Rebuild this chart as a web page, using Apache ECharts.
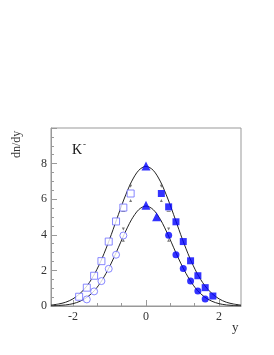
<!DOCTYPE html>
<html>
<head>
<meta charset="utf-8">
<script src="https://cdn.jsdelivr.net/npm/echarts@6/dist/echarts.min.js"></script>
<style>html,body{margin:0;padding:0;background:#fff;}#c{width:274px;height:355px;}</style>
</head>
<body>
<div id="c"></div>
<script>
// ---- data ----
const xTickLabels = [-2, 0, 2];
const xMinorTicks = [-1.333, -0.667, 0.667, 1.333];
const yTickLabels = [0, 2, 4, 6, 8];

const curveX     = [-2.6,-2.4,-2.2,-2.0,-1.8,-1.6,-1.4,-1.2,-1.0,-0.8,-0.6,-0.4,-0.2,0,0.2,0.4,0.6,0.8,1.0,1.2,1.4,1.6,1.8,2.0,2.2,2.4,2.6];
const upperCurve = [0.05,0.11,0.21,0.40,0.71,1.17,1.83,2.69,3.73,4.88,6.01,6.97,7.62,7.85,7.62,6.97,6.01,4.88,3.73,2.69,1.83,1.17,0.71,0.40,0.21,0.11,0.05];
const lowerCurve = [0.01,0.03,0.06,0.13,0.27,0.51,0.89,1.46,2.20,3.08,4.01,4.84,5.41,5.62,5.41,4.84,4.01,3.08,2.20,1.46,0.89,0.51,0.27,0.13,0.06,0.03,0.01];

const sqFilledX = [0.42,0.62,0.82,1.02,1.22,1.42,1.62,1.83];
const sqFilledY = [6.32,5.57,4.73,3.62,2.54,1.70,1.03,0.56];
const sqOpenX   = [-0.42,-0.62,-0.82,-1.02,-1.22,-1.42,-1.62,-1.83];
const sqOpenY   = [6.32,5.53,4.75,3.62,2.52,1.70,1.03,0.52];
const ciFilledX = [0.62,0.82,1.02,1.22,1.42,1.62];
const ciFilledY = [3.98,2.88,2.11,1.40,0.84,0.39];
const ciOpenX   = [-0.62,-0.82,-1.02,-1.22,-1.42,-1.62];
const ciOpenY   = [3.96,2.88,2.09,1.40,0.82,0.37];
const triX      = [0, 0, 0.29];
const triY      = [7.87, 5.66, 5.01];

const sysDownX = [-0.42, 0.42, -0.62, 0.62];
const sysDownY = [6.73, 6.73, 4.32, 4.32];
const sysUpX   = [-0.42, 0.42, -0.62, 0.62];
const sysUpY   = [5.92, 5.92, 3.70, 3.70];
const sysDashX = [-0.62, 0.62];
const sysDashY = [5.32, 5.32];

const zip = (a, b) => a.map((v, i) => [v, b[i]]);

const FONT = 'Liberation Serif';
const chart = echarts.init(document.getElementById('c'), null, {renderer: 'canvas'});
chart.setOption({
  animation: false,
  backgroundColor: '#fff',
  grid: {left: 51, top: 128, width: 190, height: 178, show: true, borderColor: '#999', borderWidth: 1, backgroundColor: 'transparent'},
  xAxis: [{
    type: 'value', min: -2.6, max: 2.6,
    axisLine: {show: true, onZero: false, lineStyle: {color: '#999', width: 1}},
    axisTick: {show: true, inside: true, length: 6, customValues: xTickLabels, lineStyle: {color: '#999'}},
    axisLabel: {show: true, customValues: xTickLabels, margin: 5, fontFamily: FONT, fontSize: 12, color: '#333'},
    splitLine: {show: false}
  }, {
    type: 'value', min: -2.6, max: 2.6, position: 'bottom',
    axisLine: {show: false, onZero: false},
    axisTick: {show: true, inside: true, length: 3, customValues: xMinorTicks, lineStyle: {color: '#999'}},
    axisLabel: {show: false},
    splitLine: {show: false}
  }],
  yAxis: {
    type: 'value', min: 0, max: 10, interval: 2,
    axisLine: {show: true, onZero: false, lineStyle: {color: '#999', width: 1}},
    axisTick: {show: true, inside: true, length: 6, lineStyle: {color: '#999'}},
    minorTick: {show: true, splitNumber: 4, length: 3, lineStyle: {color: '#999'}},
    axisLabel: {show: true, customValues: yTickLabels, margin: 4, fontFamily: FONT, fontSize: 12, color: '#333'},
    splitLine: {show: false}
  },
  graphic: [
    {type: 'group', x: 23, y: 158, rotation: Math.PI / 2, children: [
      {type: 'text', x: 0, y: 0, style: {text: 'dn/dy', font: '12px "Liberation Serif"', fill: '#333', align: 'left', verticalAlign: 'bottom'}}
    ]},
    {type: 'text', x: 232, y: 321, style: {text: 'y', font: '13px "Liberation Serif"', fill: '#333'}},
    {type: 'text', x: 72, y: 143, style: {text: 'K', font: '14px "Liberation Serif"', fill: '#111'}},
    {type: 'text', x: 83, y: 140, style: {text: '-', font: '9px "Liberation Serif"', fill: '#111'}}
  ],
  series: [
    {type: 'line', data: zip(curveX, upperCurve), smooth: 0.3, showSymbol: false, lineStyle: {color: '#222', width: 1}, z: 2},
    {type: 'line', data: zip(curveX, lowerCurve), smooth: 0.3, showSymbol: false, lineStyle: {color: '#222', width: 1}, z: 2},
    {type: 'scatter', data: zip(sqOpenX, sqOpenY), symbol: 'rect', symbolSize: 7, itemStyle: {color: '#fff', borderColor: '#6a6aff', borderWidth: 1}, z: 5},
    {type: 'scatter', data: zip(ciOpenX, ciOpenY), symbol: 'circle', symbolSize: 7, itemStyle: {color: '#fff', borderColor: '#6a6aff', borderWidth: 1}, z: 5},
    {type: 'scatter', data: zip(sqFilledX, sqFilledY), symbol: 'rect', symbolSize: 7, itemStyle: {color: '#0000ff'}, z: 5},
    {type: 'scatter', data: zip(ciFilledX, ciFilledY), symbol: 'circle', symbolSize: 7, itemStyle: {color: '#0000ff'}, z: 5},
    {type: 'scatter', data: zip(triX, triY), symbol: 'triangle', symbolSize: 9, itemStyle: {color: '#0000ff'}, z: 5},
    {type: 'scatter', data: zip(sysDownX, sysDownY), symbol: 'triangle', symbolRotate: 180, symbolSize: 3, itemStyle: {color: '#555'}, z: 4},
    {type: 'scatter', data: zip(sysUpX, sysUpY), symbol: 'triangle', symbolSize: 3, itemStyle: {color: '#555'}, z: 4},
    {type: 'scatter', data: zip(sysDashX, sysDashY), symbol: 'rect', symbolSize: [4, 1], itemStyle: {color: '#555'}, z: 4}
  ]
});
</script>
</body>
</html>
